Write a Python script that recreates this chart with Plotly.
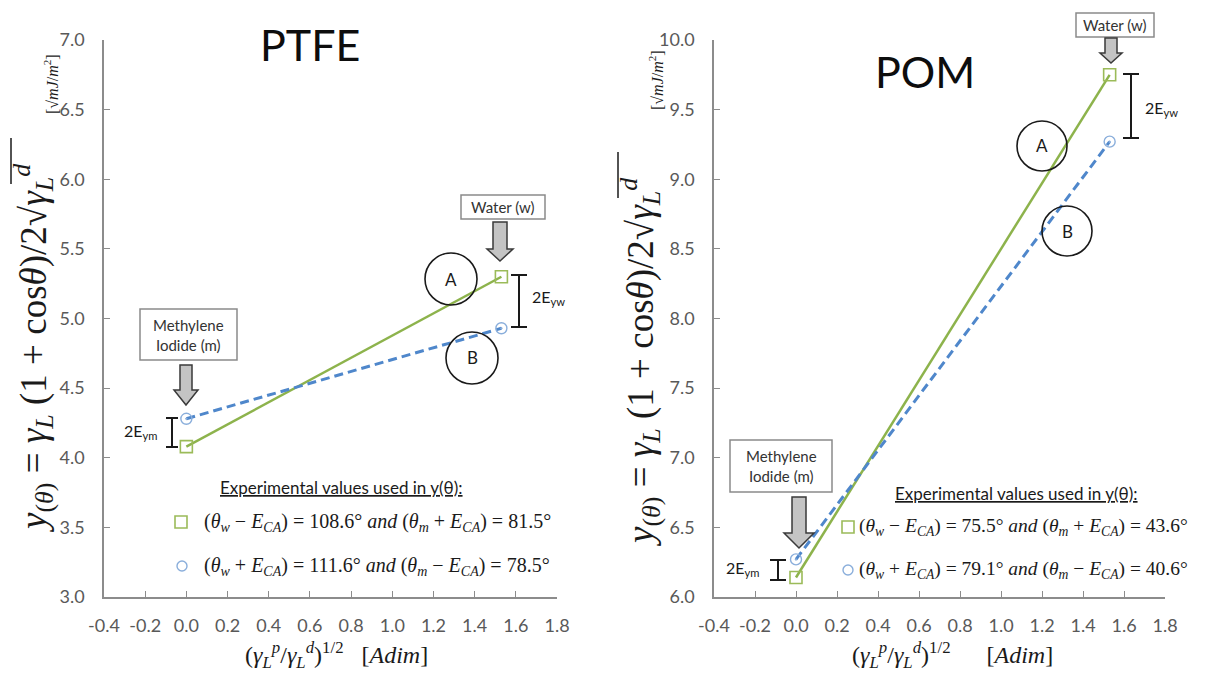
import plotly.graph_objects as go

# ---------------- data ----------------
liquid_x = [0.0, 1.53]          # methylene iodide (m), water (w)
ptfe_A = [4.08, 5.30]           # (θw − ECA), (θm + ECA)
ptfe_B = [4.28, 4.93]           # (θw + ECA), (θm − ECA)
pom_A = [6.14, 9.75]
pom_B = [6.27, 9.27]
x_ticks = [-0.4, -0.2, 0.0, 0.2, 0.4, 0.6, 0.8, 1.0, 1.2, 1.4, 1.6, 1.8]
ptfe_y_ticks = [3.0, 3.5, 4.0, 4.5, 5.0, 5.5, 6.0, 6.5, 7.0]
pom_y_ticks = [6.0, 6.5, 7.0, 7.5, 8.0, 8.5, 9.0, 9.5, 10.0]
titles = ["PTFE", "POM"]
ptfe_legend = ["108.6", "81.5", "111.6", "78.5"]
pom_legend = ["75.5", "43.6", "79.1", "40.6"]

# page body has an 8px margin: the figure is drawn from (8, 8)
OFF = 8
W, H = 1216 - OFF, 675 - OFF
GREEN_LINE = "#8db34c"
GREEN_MK = "#9bbb59"
BLUE_LINE = "#4f87cb"
BLUE_MK = "#8aaedb"
AXC = "#8c8c8c"
TICKF = dict(family="Lato", size=18, color="#595959")
SERIF = "Liberation Serif"

fig = go.Figure()

def add_panel(xa, ya, ya_vals, yb_vals):
    fig.add_trace(go.Scatter(x=liquid_x, y=ya_vals, mode="lines+markers", xaxis=xa, yaxis=ya,
                             line=dict(color=GREEN_LINE, width=2.5),
                             marker=dict(symbol="square-open", size=12, color=GREEN_MK, line=dict(width=1.6)),
                             hoverinfo="skip"))
    fig.add_trace(go.Scatter(x=liquid_x, y=yb_vals, mode="lines+markers", xaxis=xa, yaxis=ya,
                             line=dict(color=BLUE_LINE, width=3, dash="9px,5px"),
                             marker=dict(symbol="circle-open-dot", size=11, color=BLUE_MK, line=dict(width=1.4)),
                             hoverinfo="skip"))

add_panel("x", "y", ptfe_A, ptfe_B)
add_panel("x2", "y2", pom_A, pom_B)

def px(x):
    return (x - OFF) / W

def py(y):
    return 1 - (y - OFF) / H

axis_common = dict(showgrid=False, zeroline=False, showline=True, linecolor=AXC, linewidth=1.5,
                   ticks="inside", ticklen=6, tickcolor=AXC, tickwidth=1.3, tickfont=TICKF,
                   automargin=False)

fig.update_layout(
    width=W, height=H, margin=dict(l=0, r=0, t=0, b=0, pad=0, autoexpand=False),
    plot_bgcolor="white", paper_bgcolor="white", showlegend=False,
    xaxis=dict(domain=[px(104), px(557)], range=[-0.4, 1.8], tickvals=x_ticks,
               ticktext=["%.1f" % v for v in x_ticks], anchor="y", ticklabelstandoff=12, **axis_common),
    yaxis=dict(domain=[py(597), py(40)], range=[3.0, 7.0], tickvals=ptfe_y_ticks,
               ticktext=["%.1f" % v for v in ptfe_y_ticks], anchor="x", ticklabelstandoff=14, **axis_common),
    xaxis2=dict(domain=[px(714), px(1165)], range=[-0.4, 1.8], tickvals=x_ticks,
                ticktext=["%.1f" % v for v in x_ticks], anchor="y2", ticklabelstandoff=12, **axis_common),
    yaxis2=dict(domain=[py(597), py(40)], range=[6.0, 10.0], tickvals=pom_y_ticks,
                ticktext=["%.1f" % v for v in pom_y_ticks], anchor="x2", ticklabelstandoff=14, **axis_common),
)

shapes = []
annos = []

def text(x, y, s, size, family="Lato", color="#1a1a1a", xanchor="center", angle=0):
    annos.append(dict(x=px(x), y=py(y), xref="paper", yref="paper", text=s, showarrow=False,
                      font=dict(family=family, size=size, color=color), xanchor=xanchor,
                      yanchor="middle", textangle=angle))

def seg(x0, y0, x1, y1, color="#1a1a1a", width=2):
    shapes.append(dict(type="line", xref="paper", yref="paper", x0=px(x0), y0=py(y0), x1=px(x1), y1=py(y1),
                       line=dict(color=color, width=width)))

def box(x0, y0, x1, y1):
    shapes.append(dict(type="rect", xref="paper", yref="paper", x0=px(x0), x1=px(x1), y0=py(y1), y1=py(y0),
                       line=dict(color="#8a8a8a", width=1.5), fillcolor="white"))

def block_arrow(cx, top, neck, tip, sh, hh):
    pts = [(cx - sh, top), (cx + sh, top), (cx + sh, neck), (cx + hh, neck), (cx, tip),
           (cx - hh, neck), (cx - sh, neck)]
    path = "M " + " L ".join("%.5f,%.5f" % (px(a), py(b)) for a, b in pts) + " Z"
    shapes.append(dict(type="path", xref="paper", yref="paper", path=path,
                       fillcolor="#c4c4c4", line=dict(color="#3a3a3a", width=1.5)))

def ibeam(x, y0, y1, cap):
    seg(x, y0, x, y1)
    seg(x - cap, y0, x + cap, y0)
    seg(x - cap, y1, x + cap, y1)

def ring(cx, cy, r, label):
    shapes.append(dict(type="circle", xref="paper", yref="paper", x0=px(cx - r), x1=px(cx + r),
                       y0=py(cy + r), y1=py(cy - r), line=dict(color="#1a1a1a", width=1.6)))
    text(cx, cy, label, 17, color="#1a1a1a")

def sym_square(cx, cy, s=6):
    shapes.append(dict(type="rect", xref="paper", yref="paper", x0=px(cx - s), x1=px(cx + s),
                       y0=py(cy + s), y1=py(cy - s), line=dict(color=GREEN_MK, width=1.6)))

def sym_circle(cx, cy, r=5):
    shapes.append(dict(type="circle", xref="paper", yref="paper", x0=px(cx - r), x1=px(cx + r),
                       y0=py(cy + r), y1=py(cy - r), line=dict(color=BLUE_MK, width=1.4)))

def legend_row(vals, sign_w, sign_m):
    return ("(<i>θ<sub>w</sub></i> %s <i>E<sub>CA</sub></i>) = %s° <i>and</i> "
            "(<i>θ<sub>m</sub></i> %s <i>E<sub>CA</sub></i>) = %s°") % (sign_w, vals[0], sign_m, vals[1])

ylabel = ("<i>y</i><sub>(<i>θ</i>)</sub> = <i>γ<sub>L</sub></i> (1 + cos<i>θ</i>)/2√"
          "<i>γ<sub>L</sub></i><sup><i>d</i></sup>")
unit = "[√<i>mJ</i>/<i>m</i><sup>2</sup>]"
xlabel_l = "(<i>γ<sub>L</sub></i><sup><i>p</i></sup>/<i>γ<sub>L</sub></i><sup><i>d</i></sup>)<sup>1/2</sup>   [<i>Adim</i>]"
xlabel_r = "(<i>γ<sub>L</sub></i><sup><i>p</i></sup>/<i>γ<sub>L</sub></i><sup><i>d</i></sup>)<sup>1/2</sup>      [<i>Adim</i>]"
header = "<span style='text-decoration:underline'>Experimental values used in y(θ):</span>"

# ---------- PTFE panel decorations ----------
text(310, 45, titles[0], 43, color="#0d0d0d")
text(33, 348, ylabel, 37, family=SERIF, angle=-90)
seg(11, 138, 11, 184, color="#1a1a1a", width=1.5)          # radical vinculum
text(51, 84, unit, 16, family=SERIF, angle=-90)
text(336, 655, xlabel_l, 24, family=SERIF)

box(461, 195, 545, 219)
text(503, 207, "Water (w)", 15, color="#333333")
block_arrow(500, 222, 249, 261, 7, 13)
box(140, 309, 237, 360)
text(188, 335, "Methylene<br>Iodide (m)", 15, color="#333333")
block_arrow(186, 365, 390, 405, 6, 12)
ring(451, 279, 26, "A")
ring(472, 358, 26, "B")
ibeam(519, 275, 327, 8)
text(530, 298, "2E<sub>yw</sub>", 16, xanchor="left")
ibeam(172, 418, 447, 6)
text(160, 431, "2E<sub>ym</sub>", 16, xanchor="right")

text(341, 487, header, 17)
sym_square(181, 522)
text(202, 522, legend_row(ptfe_legend[:2], "−", "+"), 20, family=SERIF, xanchor="left")
sym_circle(182, 566)
text(202, 566, legend_row(ptfe_legend[2:], "+", "−"), 20, family=SERIF, xanchor="left")

# ---------- POM panel decorations ----------
text(925, 72, titles[1], 43, color="#0d0d0d")
text(640, 362, ylabel, 37, family=SERIF, angle=-90)
seg(618, 152, 618, 198, color="#1a1a1a", width=1.5)        # radical vinculum
text(656, 80, unit, 16, family=SERIF, angle=-90)
text(952, 655, xlabel_r, 24, family=SERIF)

box(1076, 13, 1154, 37)
text(1115, 25, "Water (w)", 15, color="#333333")
block_arrow(1111, 38, 53, 63, 6, 11)
box(730, 440, 832, 492)
text(781, 466, "Methylene<br>Iodide (m)", 15, color="#333333")
block_arrow(799, 497, 533, 548, 7, 15)
ring(1042, 146, 25, "A")
ring(1067, 231, 25, "B")
ibeam(1131, 74, 138, 8)
text(1143, 108, "2E<sub>yw</sub>", 16, xanchor="left")
ibeam(778, 560, 580, 8)
text(762, 568, "2E<sub>ym</sub>", 16, xanchor="right")

text(1016, 493, header, 17)
sym_square(848, 527)
text(857, 527, legend_row(pom_legend[:2], "−", "+"), 19.5, family=SERIF, xanchor="left")
sym_circle(848, 570)
text(857, 570, legend_row(pom_legend[2:], "+", "−"), 19.5, family=SERIF, xanchor="left")

fig.update_layout(shapes=shapes, annotations=annos)
fig.write_html("out.html")
